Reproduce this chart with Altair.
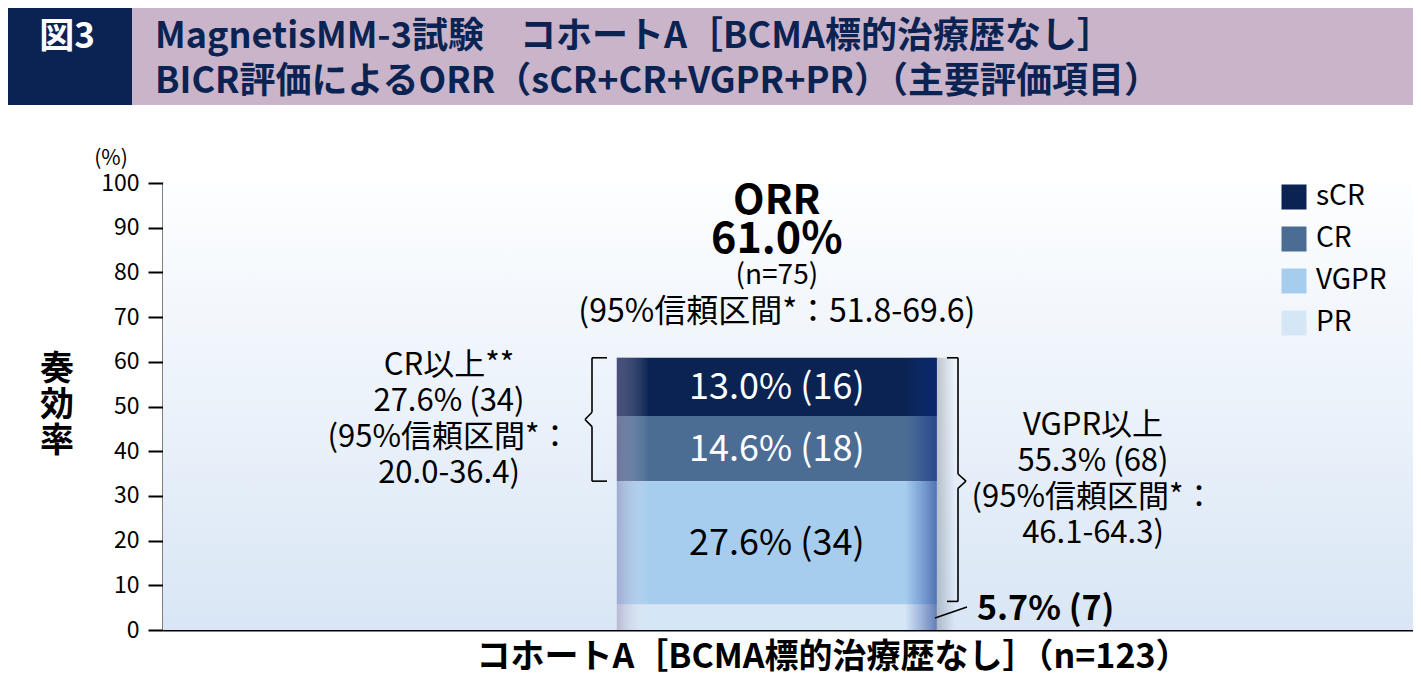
import altair as alt
import pandas as pd

# ---------------- data ----------------
categories = ["sCR", "CR", "VGPR", "PR"]
pct = [13.0, 14.6, 27.6, 5.7]
counts = [16, 18, 34, 7]
stack_order = [3, 2, 1, 0]          # PR at the bottom, sCR at the top
colors = ["#0b2352", "#4b6d94", "#a7cdee", "#d5e6f6"]
cohort = "コホートA［BCMA標的治療歴なし］（n=123）"
y_ticks = list(range(0, 101, 10))

fig_label = "図3"
title_lines = ["MagnetisMM-3試験　コホートA［BCMA標的治療歴なし］",
               "BICR評価によるORR（sCR+CR+VGPR+PR）（主要評価項目）"]
orr_lines = ["ORR", "61.0%", "(n=75)", "(95%信頼区間*：51.8-69.6)"]
cr_lines = ["CR以上**", "27.6% (34)", "(95%信頼区間*：", "20.0-36.4)"]
vgpr_lines = ["VGPR以上", "55.3% (68)", "(95%信頼区間*：", "46.1-64.3)"]
pr_label = "5.7% (7)"
y_title = "奏\n効\n率"
y_unit = "(%)"

# ---------------- layout / style ----------------
FONT = "Noto Sans CJK JP"
NAVY = "#0b2352"
W, H = 1250, 447

df = pd.DataFrame({"cohort": [cohort] * 4, "cat": categories, "pct": pct,
                   "n": counts, "ord": stack_order})
df["label"] = [f"{p:.1f}% ({c})" for p, c in zip(pct, counts)]

total = round(sum(pct), 1)
pr_top = pct[3]
vgpr_top = round(pct[3] + pct[2], 1)

xscale = alt.Scale(paddingInner=0.3118, paddingOuter=1, align=0.488)
yscale = alt.Scale(domain=[0, 100], nice=False)
X_AX = alt.Axis(labels=False, ticks=False, title=None, grid=False,
                domainColor="black", domainWidth=2)
Y_AX = alt.Axis(values=y_ticks, title=None, grid=False,
                labelFontSize=23, labelFont=FONT, labelColor="black",
                tickSize=15, tickWidth=2, tickColor="black",
                domainColor="black", domainWidth=2, labelPadding=9)
one = pd.DataFrame({"cohort": [cohort]})


def X():
    return alt.X("cohort:N", scale=xscale, axis=X_AX)


def Y(field):
    return alt.Y(field, scale=yscale, axis=Y_AX)


def grad(stops, horizontal=False):
    return {"gradient": "linear", "x1": 0, "y1": 0,
            "x2": 1 if horizontal else 0, "y2": 0 if horizontal else 1,
            "stops": [{"offset": o, "color": c} for o, c in stops]}


def txt(text, x, y, size, weight="normal", align="center", color="black",
        baseline="alphabetic", line_height=None, on_band=False):
    kw = dict(fontSize=size, fontWeight=weight, align=align, color=color,
              baseline=baseline, font=FONT)
    if line_height:
        kw.update(lineBreak="\n", lineHeight=line_height)
    enc = dict(text=alt.value(text), y=alt.value(y))
    enc["x"] = X() if on_band else alt.value(x)
    return alt.Chart(one).mark_text(**kw).encode(**enc)


# background gradient of the plot area
background = alt.Chart(one).mark_rect(
    color=grad([(0, "#fdfeff"), (1, "#d9e6f5")])
).encode(x=alt.value(0), x2=alt.value(W), y=alt.value(0), y2=alt.value(H))

# title banner
banner = alt.Chart(one).mark_rect(color="#c9b4c9").encode(
    x=alt.value(-155), x2=alt.value(W), y=alt.value(-175), y2=alt.value(-78))
navy_box = alt.Chart(one).mark_rect(color=NAVY).encode(
    x=alt.value(-155), x2=alt.value(-31), y=alt.value(-175), y2=alt.value(-78))
fig_txt = txt(fig_label, -96, -135, 35, "bold", color="white")
t1 = txt(title_lines[0], -8, -135, 36, "bold", align="left", color=NAVY)
t2 = txt(title_lines[1], -8, -90, 36, "bold", align="left", color=NAVY)

stacked = alt.Chart(df).transform_stack(
    stack="pct", groupby=["cohort"], as_=["y0", "y1"],
    sort=[alt.SortField("ord", order="ascending")])

bars = stacked.mark_bar().encode(
    x=X(),
    y=Y("y0:Q"),
    y2="y1:Q",
    color=alt.Color("cat:N", scale=alt.Scale(domain=categories, range=colors),
                    legend=alt.Legend(title=None, orient="none", legendX=1117,
                                      legendY=0, symbolType="square",
                                      symbolSize=625, symbolStrokeWidth=0,
                                      symbolOpacity=1, labelFontSize=28,
                                      labelFont=FONT, labelColor="black",
                                      rowPadding=14, labelOffset=8)),
)

tot = pd.DataFrame({"cohort": [cohort], "lo": [0.0], "hi": [total]})
shade = alt.Chart(tot).mark_bar(
    color=grad([(0, "rgba(150,130,170,0.45)"), (0.1, "rgba(255,255,255,0)"),
                (0.9, "rgba(20,60,160,0)"), (1, "rgba(10,40,130,0.55)")],
               horizontal=True)
).encode(x=X(), y=Y("lo:Q"), y2="hi:Q")

shadow = alt.Chart(tot).mark_rect(
    color=grad([(0, "rgba(60,70,90,0.28)"), (1, "rgba(60,70,90,0)")],
               horizontal=True)
).encode(x=alt.value(774), x2=alt.value(792), y=Y("lo:Q"), y2="hi:Q")

seg_labels = stacked.transform_filter("datum.cat != 'PR'").transform_calculate(
    mid="(datum.y0 + datum.y1) / 2"
).mark_text(fontSize=36, font=FONT, fontWeight="normal", dy=12,
            baseline="alphabetic").encode(
    x=X(),
    y=Y("mid:Q"),
    text="label:N",
    color=alt.condition("datum.cat == 'VGPR'", alt.value("black"),
                        alt.value("white")),
)

# brackets (x in px, y on the data scale)
lm = (total + vgpr_top) / 2
rm = (total + pr_top) / 2
d = 1.6
segs = pd.DataFrame([
    # left bracket
    (444, 429, total, total), (429, 429, total, lm + d), (429, 422, lm + d, lm),
    (422, 429, lm, lm - d), (429, 429, lm - d, vgpr_top), (429, 444, vgpr_top, vgpr_top),
    # right bracket
    (784, 795, total, total), (795, 795, total, rm + d), (795, 803, rm + d, rm),
    (803, 795, rm, rm - d), (795, 795, rm - d, pr_top + 0.7), (795, 784, pr_top + 0.7, pr_top + 0.7),
], columns=["xa", "xb", "ya", "yb"])
brackets = alt.Chart(segs).mark_rule(color="black", strokeWidth=1.6).encode(
    x=alt.X("xa:Q", scale=None, axis=None), x2="xb:Q",
    y=Y("ya:Q"), y2="yb:Q")

leader = alt.Chart(one).mark_rule(color="black", strokeWidth=1.6).encode(
    x=alt.value(772), x2=alt.value(804), y=alt.value(435), y2=alt.value(424))

orr1 = txt(orr_lines[0], 0, 31, 41, "bold", on_band=True)
orr2 = txt(orr_lines[1], 0, 70, 43, "bold", on_band=True)
orr3 = txt(orr_lines[2], 0, 101, 28, on_band=True)
orr4 = txt(orr_lines[3], 0, 139, 32, on_band=True)

cr_txt = txt("\n".join(cr_lines), 286, 192, 31, line_height=36)
vg_txt = txt("\n".join(vgpr_lines), 930, 252, 31, line_height=36)
pr_txt = txt(pr_label, 814, 437, 34, 600, align="left")

ytitle = txt(y_title, -106, 170, 34, "bold", baseline="top", line_height=36)
yunit = txt(y_unit, -52, -18, 21)
xtitle = txt(cohort, 670, 485, 34, "bold")

chart = alt.layer(
    background, banner, navy_box, fig_txt, t1, t2,
    shadow, bars, shade, seg_labels, brackets, leader,
    orr1, orr2, orr3, orr4, cr_txt, vg_txt, pr_txt, ytitle, yunit, xtitle,
).properties(
    width=W, height=H,
    padding={"left": 155, "top": 175, "right": 0, "bottom": 48},
    autosize=alt.AutoSizeParams(type="none"),
).configure_view(stroke=None).configure_text(font=FONT)

chart.save("out.html", embed_options={"renderer": "svg", "actions": False})
